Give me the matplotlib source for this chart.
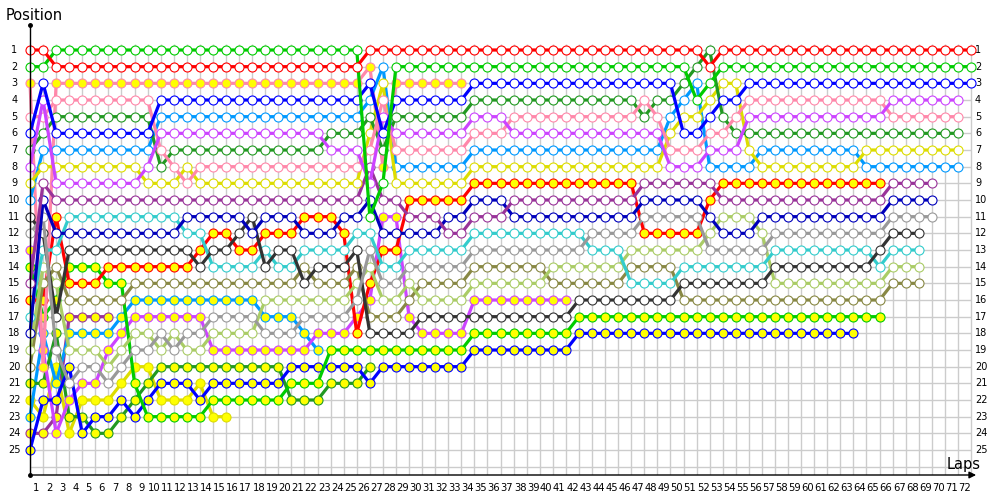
import numpy as np
import matplotlib.pyplot as plt

# lap 0 = grid, values are race positions per lap (list ends at the last lap shown)
laps = list(range(0, 73))

red_w = [1,1,2,2,2,2,2,2,2,2, 2,2,2,2,2,2,2,2,2,2, 2,2,2,2,2,2,1,1,1,1,
         1,1,1,1,1,1,1,1,1,1, 1,1,1,1,1,1,1,1,1,1, 1,1,2,1,1,1,1,1,1,1,
         1,1,1,1,1,1,1,1,1,1, 1,1,1]
green_w = [2,2,1,1,1,1,1,1,1,1, 1,1,1,1,1,1,1,1,1,1, 1,1,1,1,1,1,11,9,2,2,
           2,2,2,2,2,2,2,2,2,2, 2,2,2,2,2,2,2,2,2,2, 2,4,3,2,2,2,2,2,2,2,
           2,2,2,2,2,2,2,2,2,2, 2,2,2]
blue_w = [6,3,6,6,6,6,6,6,6,6, 4,4,4,4,4,4,4,4,4,4, 4,4,4,4,4,4,3,6,4,4,
          4,4,4,4,3,3,3,3,3,3, 3,3,3,3,3,3,3,3,3,3, 6,6,5,4,4,3,3,3,3,3,
          3,3,3,3,3,3,3,3,3,3, 3,3,3]
pink_w = [5,5,4,4,4,4,4,4,4,4, 7,8,9,8,8,8,8,8,8,8, 8,8,8,8,8,8,7,4,7,7,
          7,7,7,7,6,6,6,5,5,5, 5,5,5,5,5,5,5,4,5,7, 7,7,6,6,5,4,4,4,4,4,
          4,4,4,4,4,4,5,5,5,5, 5,5]
pink_y = [3,20,3,3,3,3,3,3,3,3, 3,3,3,3,3,3,3,3,3,3, 3,3,3,3,3,3,2,8,3,3,
          3,3,3,3]
magenta_w = [8,4,9,9,9,9,9,9,9,8, 6,6,6,6,6,6,6,6,6,6, 6,6,6,7,7,7,9,5,6,6,
             6,6,6,6,5,5,5,6,6,6, 6,6,6,6,6,6,6,6,6,8, 8,8,7,7,7,5,5,5,5,5,
             5,5,5,5,5,5,4,4,4,4, 4,4]
magenta_y = [13,19,24,22,21,21,19,18,17,17, 17,17,17,17,19,19,19,19,19,19,
             19,19,18,18,18,17,16,11,11,17, 18,18,18,18,16,16,16,16,16,16,
             16,16]
dgreen_w = [7,6,5,5,5,5,5,5,5,5, 8,7,7,7,7,7,7,7,7,7, 7,7,7,6,6,6,5,7,5,5,
            5,5,5,5,4,4,4,4,4,4, 4,4,4,4,4,4,4,5,4,4, 3,2,1,5,6,6,6,6,6,6,
            6,6,6,6,6,6,6,6,6,6, 6,6]
dgreen_y = [21,21,18,23,23,24,24,23,22,21, 20,20,20,20,20,20,20,20,20,20,
            22,22,22,21,21,21,20]
lblue_w = [10,7,7,7,7,7,7,7,7,7, 5,5,5,5,5,5,5,5,5,5, 5,5,5,5,5,5,4,2,8,8,
           8,8,8,8,7,7,7,7,7,7, 7,7,7,7,7,7,7,7,7,5, 4,3,8,8,8,8,7,7,7,7,
           7,7,7,7,8,8,8,8,8,8, 8,8]
lblue_y = [23,18,21,18,18,18,18,17,16,16, 16,16,16,16,16,16,16,16,17,17,
           17,18,19]
yellow_w = [9,8,8,8,8,8,8,8,8,9, 9,9,8,9,9,9,9,9,9,9, 9,9,9,9,9,9,6,3,9,9,
            9,9,9,9,8,8,8,8,8,8, 8,8,8,8,8,8,8,8,8,6, 5,5,4,3,3,7,8,8,8,8,
            8,8,8,8,7,7,7,7,7,7, 7,7]
yellow_y = [22,23,20,24,22,22,22,21,20,20, 22,22,22,21,23,23]
purple_w = [15,9,10,10,10,10,10,10,10,10, 10,10,10,10,10,10,10,10,10,10,
            10,10,10,10,10,10,8,10,10,11, 11,11,12,12,11,11,11,10,10,10,
            10,10,10,10,10,10,10,9,9,9, 9,9,9,10,10,10,10,10,10,10,
            10,10,10,10,10,10,9,9,9,9]
purple_y = [24,24,23,17,17,17,17]
dblue_w = [18,10,12,12,12,12,12,12,12,12, 12,12,11,11,11,11,11,12,11,11,
           11,12,12,12,11,11,10,12,12,12, 12,12,11,11,10,10,10,11,11,11,
           11,11,11,11,11,11,11,10,10,10, 10,10,11,12,12,12,11,11,11,11,
           11,11,11,11,11,11,10,10,10,10]
gray_w = [12,11,19,21,20,20,21,20,19,19, 18,19,18,18,17,17,17,17,18,18,
          18,17,17,17,17,16,13,15,15,14, 14,14,14,14,13,13,13,13,13,13,
          13,13,13,12,12,12,12,11,11,11, 11,11,13,13,13,13,13,12,12,12,
          12,12,12,12,12,12,11,11,11,11]
cyan_w = [17,13,13,11,11,11,11,11,11,11, 11,11,12,12,14,14,14,14,13,14,
          14,13,13,13,13,12,12,14,14,13, 13,13,13,13,12,12,12,12,12,12,
          12,12,12,13,13,13,15,15,15,15, 14,14,14,14,14,14,14,13,13,13,
          13,13,13,13,13,14,13,13,13]
black_w = [11,12,17,13,13,13,13,13,13,13, 13,13,13,14,13,13,12,11,14,13,
           13,15,14,14,14,13,18,18,18,18, 17,17,17,17,17,17,17,17,17,17,
           17,17,16,16,16,16,16,16,16,16, 15,15,15,15,15,15,15,14,14,14,
           14,14,14,14,14,13,12,12,12]
olive_w = [20,15,14,16,16,16,16,16,15,15, 15,15,15,15,15,15,15,15,15,15,
           15,14,15,15,15,14,17,17,17,16, 15,15,15,15,14,14,14,14,14,14,
           15,15,15,15,15,15,14,14,14,14, 16,16,16,16,16,16,16,16,16,16,
           16,16,16,16,16,16,15,15,15]
lgreen_w = [19,14,15,19,19,19,20,19,18,18, 19,18,19,19,18,18,18,18,16,16,
            16,16,16,16,16,15,14,16,16,15, 16,16,16,16,15,15,15,15,15,15,
            14,14,14,14,14,14,13,13,13,13, 13,13,12,11,11,11,12,15,15,15,
            15,15,15,15,15,15,14,14,14]
red_y = [16,16,11,15,15,15,14,14,14,14, 14,14,14,13,12,12,13,13,12,12,
         12,11,11,11,12,18,15,13,13,10, 10,10,10,10,9,9,9,9,9,9,
         9,9,9,9,9,9,9,12,12,12, 12,12,10,9,9,9,9,9,9,9,
         9,9,9,9,9,9]
green_y = [14,17,16,14,14,14,15,15,21,23, 23,23,23,23,22,22,22,22,22,22,
           21,21,21,19,19,19,19,19,19,19, 19,19,19,19,18,18,18,18,18,18,
           18,18,17,17,17,17,17,17,17,17, 17,17,17,17,17,17,17,17,17,17,
           17,17,17,17,17,17]
blue_y = [25,22,22,20,24,23,23,22,23,22, 21,21,21,22,21,21,21,21,21,21,
          20,20,20,20,20,20,21,20,20,20, 20,20,20,20,19,19,19,19,19,19,
          19,19,18,18,18,18,18,18,18,18, 18,18,18,18,18,18,18,18,18,18,
          18,18,18,18]

YEL = '#ffff00'
# (positions, line colour, marker fill) - drawn back to front
series = [
    (purple_y, '#993399', YEL), (yellow_y, '#dddd00', YEL), (lblue_y, '#0099ff', YEL),
    (dgreen_y, '#229922', YEL), (magenta_y, '#cc44ff', YEL), (blue_y, '#0000ff', YEL),
    (green_y, '#00cc00', YEL), (red_y, '#ff0000', YEL), (pink_y, '#ff88aa', YEL),
    (olive_w, '#888844', 'white'), (lgreen_w, '#aacc66', 'white'), (cyan_w, '#33cccc', 'white'),
    (black_w, '#333333', 'white'), (gray_w, '#999999', 'white'), (dblue_w, '#0000bb', 'white'),
    (purple_w, '#993399', 'white'), (lblue_w, '#0099ff', 'white'), (yellow_w, '#dddd00', 'white'),
    (dgreen_w, '#229922', 'white'), (pink_w, '#ff88aa', 'white'), (magenta_w, '#cc44ff', 'white'),
    (blue_w, '#0000ff', 'white'), (green_w, '#00cc00', 'white'), (red_w, '#ff0000', 'white'),
]

fig = plt.figure(figsize=(10, 5), dpi=100)
ax = fig.add_axes([0.03, 0.05, 0.96, 0.90])
ax.set_xlim(0, 73.45)
ax.set_ylim(26.5, -0.5)
ax.axis('off')

# grid
ax.vlines(laps, 0.65, 26.5, color='#cccccc', lw=1, zorder=0)
ax.hlines(range(1, 27), 0, 72, color='#cccccc', lw=1, zorder=0)

for pos, col, fill in series:
    ax.plot(laps[:len(pos)], pos, '-o', color=col, lw=2.3, ms=6.5,
            mfc=fill, mec=col, mew=0.8, clip_on=False, zorder=2)

# axes with arrow
ax.plot([0, 0], [26.5, -0.5], color='black', lw=1, clip_on=False, zorder=3)
ax.plot([0], [-0.5], 'ko', ms=2.5, clip_on=False, zorder=3)
ax.plot([0], [26.5], 'ko', ms=2.5, clip_on=False, zorder=3)
ax.annotate('', xy=(72.6, 26.5), xytext=(0, 26.5),
            arrowprops=dict(arrowstyle='-|>', color='black', lw=1, mutation_scale=10),
            annotation_clip=False, zorder=3)

for p in range(1, 26):
    ax.text(-1.2, p, str(p), ha='center', va='center', fontsize=7)
    ax.text(72.3, p, str(p), ha='left', va='center', fontsize=7)
for lap in range(1, 73):
    ax.text(lap - 0.5, 27.3, str(lap), ha='center', va='center', fontsize=7.2, clip_on=False)

ax.text(-1.9, -1.1, 'Position', ha='left', va='center', fontsize=10.5)
ax.text(70.1, 25.9, 'Laps', ha='left', va='center', fontsize=10.5)

fig.savefig('out.png', dpi=100)
